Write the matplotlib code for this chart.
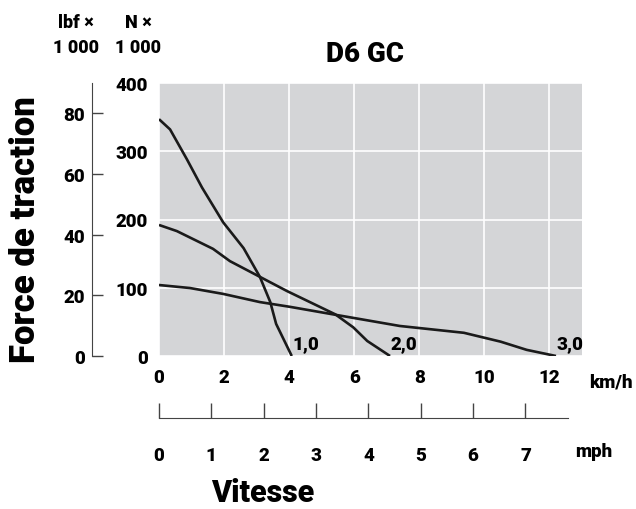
import matplotlib
matplotlib.use("Agg")
import matplotlib.pyplot as plt
import numpy as np

plt.rcParams['font.family'] = ['Roboto', 'DejaVu Sans']
plt.rcParams['font.weight'] = 'heavy'

# traction curves, km/h vs kN
speed_1 = [0, 0.34, 0.86, 1.32, 1.97, 2.6, 3.1, 3.42, 3.6, 4.08]
force_1 = [347, 332, 288, 247, 196, 158, 116, 79, 47, 0]
speed_2 = [0, 0.55, 1.66, 2.18, 3.1, 3.94, 5.42, 5.97, 6.4, 7.1]
force_2 = [192, 183, 157, 139, 116, 95, 61, 42, 22, 0]
speed_3 = [0, 0.95, 1.97, 3.1, 4.03, 5.47, 7.4, 9.37, 10.5, 11.3, 12.2]
force_3 = [104, 99.6, 91, 79, 72, 60, 44, 34, 21, 9, 0]
gear_labels = ["1,0", "2,0", "3,0"]

kmh_ticks = [0, 2, 4, 6, 8, 10, 12]
mph_ticks = [0, 1, 2, 3, 4, 5, 6, 7]
n_ticks = [0, 100, 200, 300, 400]
lbf_ticks = [0, 20, 40, 60, 80]

W, H = 636, 510
fig = plt.figure(figsize=(W / 100, H / 100), dpi=100)
FS = 13.5
WT = "heavy"

def box(x0, y0, x1, y1):
    return [x0 / W, 1 - y1 / H, (x1 - x0) / W, (y1 - y0) / H]

ax = fig.add_axes(box(159, 84, 582, 357))
ax.set_facecolor("#d4d5d7")
ax.set_xlim(0, 13)
ax.set_ylim(0, 400)
for s in ax.spines.values():
    s.set_visible(False)
ax.set_xticks(kmh_ticks)
ax.set_yticks(n_ticks)
ax.grid(True, color="white", lw=1.2)
ax.set_axisbelow(True)
ax.tick_params(length=0, labelsize=FS, pad=9)
ax.tick_params(axis="y", pad=8)
for lab in ax.get_xticklabels() + ax.get_yticklabels():
    lab.set_fontweight(WT)

for xs, ys in [(speed_1, force_1), (speed_2, force_2), (speed_3, force_3)]:
    ax.plot(xs, ys, color="#1a1a1a", lw=1.9, solid_capstyle="butt")

for xs, lab in zip([speed_1, speed_2, speed_3], gear_labels):
    ax.text(xs[-1] + 0.02, 6, lab, fontsize=FS, fontweight=WT, ha="left", va="bottom")

fig.text(589 / W, 1 - 383 / H, "km/h", fontsize=FS, fontweight=WT, va="center", ha="left")

# lbf scale
axl = fig.add_axes(box(92, 84, 93, 357))
axl.set_ylim(0, 400 / 4.448)
axl.set_xticks([])
axl.set_yticks(lbf_ticks)
axl.patch.set_visible(False)
for k in ["top", "right", "bottom"]:
    axl.spines[k].set_visible(False)
axl.spines["left"].set_color("#444444")
axl.tick_params(axis="y", direction="in", length=8, width=1, color="#444444", labelsize=FS, pad=5)
for lab in axl.get_yticklabels():
    lab.set_fontweight(WT)

# mph scale
axm = fig.add_axes(box(159, 380, 582, 419))
axm.set_xlim(0, 13 / 1.609)
axm.set_yticks([])
axm.set_xticks(mph_ticks)
axm.patch.set_visible(False)
for k in ["top", "right", "left"]:
    axm.spines[k].set_visible(False)
axm.spines["bottom"].set_bounds(0, 7.82)
axm.spines["bottom"].set_color("#444444")
axm.tick_params(axis="x", direction="in", length=11, width=1, color="#444444", labelsize=FS, pad=20)
for lab in axm.get_xticklabels():
    lab.set_fontweight(WT)
fig.text(575 / W, 1 - 452 / H, "mph", fontsize=FS, fontweight=WT, va="center", ha="left")

fig.text(263 / W, 1 - 493 / H, "Vitesse", fontsize=22, fontweight=WT, ha="center", va="center")
fig.text(26 / W, 1 - 230 / H, "Force de traction", fontsize=25, fontweight=WT,
         rotation=90, ha="center", va="center")
fig.text(365 / W, 1 - 55 / H, "D6 GC", fontsize=20, fontweight=WT, ha="center", va="center")
fig.text(76 / W, 1 - 23 / H, "lbf ×", fontsize=13, fontweight=WT, ha="center", va="center")
fig.text(76 / W, 1 - 48 / H, "1 000", fontsize=13, fontweight=WT, ha="center", va="center")
fig.text(138 / W, 1 - 23 / H, "N ×", fontsize=13, fontweight=WT, ha="center", va="center")
fig.text(138 / W, 1 - 48 / H, "1 000", fontsize=13, fontweight=WT, ha="center", va="center")

fig.savefig("out.png", dpi=100)
